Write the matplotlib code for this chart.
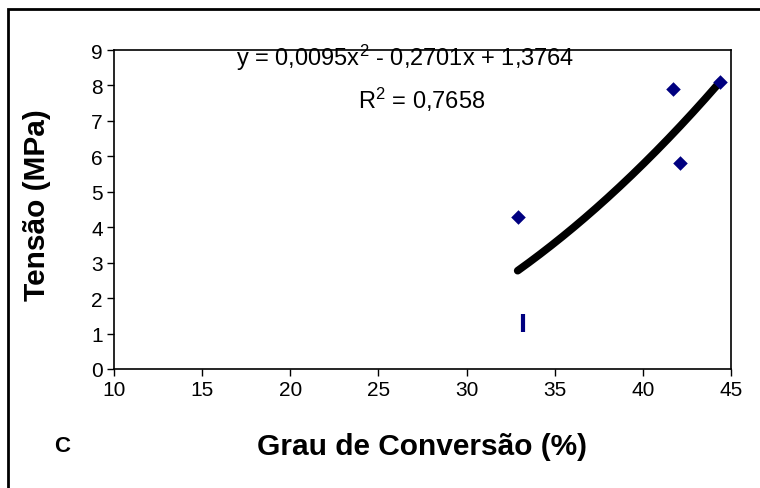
import numpy as np
import matplotlib
matplotlib.use("Agg")
import matplotlib.pyplot as plt
from matplotlib.patches import Rectangle

plt.rcParams["font.family"] = ["Liberation Sans", "DejaVu Sans"]
plt.rcParams["mathtext.fontset"] = "custom"
plt.rcParams["mathtext.rm"] = "Liberation Sans"
plt.rcParams["mathtext.it"] = "Liberation Sans"

# measured points (grau de conversao %, tensao MPa)
conv = [32.9, 41.7, 42.1, 44.4]
tensao = [4.3, 7.9, 5.8, 8.1]
# odd point drawn as a thin bar in the original
conv_bar = [33.2]
tensao_bar = [1.3]

# polynomial trendline coefficients
coef = [0.0095, -0.2701, 1.3764]
trend_range = [32.9, 44.4]

fig = plt.figure(figsize=(7.6, 4.89), dpi=100)
ax = fig.add_axes([0.150, 0.2434, 0.8118, 0.6523])

xs = np.linspace(trend_range[0], trend_range[1], 200)
ax.plot(xs, np.polyval(coef, xs), color="black", lw=5.5, solid_capstyle="round", zorder=2)

ax.scatter(conv, tensao, marker="D", s=55, color="#000080", zorder=3, linewidths=0)
ax.plot(conv_bar, tensao_bar, marker="|", markersize=13, markeredgewidth=3,
        color="#000080", linestyle="none", zorder=3)

ax.set_xlim(10, 45)
ax.set_ylim(0, 9)
ax.set_xticks(range(10, 46, 5))
ax.set_yticks(range(0, 10))
ax.tick_params(direction="out", length=5, width=1, labelsize=15, pad=3)
for s in ax.spines.values():
    s.set_linewidth(1.2)
    s.set_color("black")

fig.text(422 / 760, 1 - 447 / 489, "Grau de Conversão (%)", fontsize=21.5,
         fontweight="bold", ha="center", va="center")
fig.text(37 / 760, 1 - 205 / 489, "Tensão (MPa)", fontsize=21.5, fontweight="bold",
         ha="center", va="center", rotation=90)

fig.text(405 / 760, 1 - 58 / 489, r"y = 0,0095x$^2$ - 0,2701x + 1,3764",
         fontsize=17, ha="center", va="center", zorder=5)
fig.text(422 / 760, 1 - 100 / 489, r"R$^2$ = 0,7658", fontsize=17, ha="center", va="center")
fig.text(62 / 760, 1 - 447 / 489, "C", fontsize=16, fontweight="bold", ha="center", va="center")

# outer frame of the original figure (runs off the right and bottom edge)
fig.patches.append(Rectangle((8 / 760, -0.05), 1.0, 1 - 10 / 489 + 0.05,
                             transform=fig.transFigure, fill=False,
                             edgecolor="black", lw=2))

fig.savefig("out.png", dpi=100)
